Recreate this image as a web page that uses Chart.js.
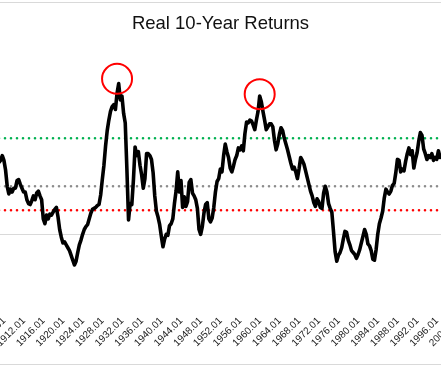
<!DOCTYPE html>
<html><head><meta charset="utf-8">
<script src="https://cdn.jsdelivr.net/npm/chart.js@4.4.1/dist/chart.umd.min.js"></script>
<style>
html,body{margin:0;padding:0;width:441px;height:368px;overflow:hidden;background:#fff;}
#wrap{position:absolute;left:0;top:0;}
#title{position:absolute;left:0;top:14px;width:441px;text-align:center;font-family:"Liberation Sans",Arial,sans-serif;font-size:18.5px;line-height:1;color:#111;}
.rule{position:absolute;left:0;width:441px;height:1px;background:#d9d9d9;}
</style></head><body>
<div class="rule" style="top:2px"></div>
<div class="rule" style="top:364px"></div>
<div id="wrap"><canvas id="c" width="520" height="368"></canvas></div>
<div id="title">Real 10-Year Returns</div>
<script>
// ---- data ----
const START_YEAR = 1906, START_MONTH = 5, STEP_MONTHS = 4, CATEGORY_COUNT = 284;
const CATEGORIES = [];
for (let i = 0; i < CATEGORY_COUNT; i++) {
  const m = START_MONTH - 1 + i * STEP_MONTHS;
  CATEGORIES.push((START_YEAR + Math.floor(m / 12)) + '.' + String(m % 12 + 1).padStart(2, '0'));
}
// real 10-year annualized return (%), every 4 months from 1906.05
const REAL_RETURNS = [
  7.5, 7.7, 8.2, 7.7, 6.7, 5.0, 4.2, 4.7, 4.4, 4.8,
  4.8, 5.6, 5.7, 5.2, 4.8, 4.4, 4.4, 3.6, 3.2, 3.1,
  3.5, 4.0, 3.6, 4.3, 4.5, 4.0, 3.6, 1.6, 1.1, 2.0,
  1.6, 2.1, 2.0, 2.3, 2.6, 2.8, 1.8, 0.5, -0.3, -0.9,
  -0.8, -1.1, -1.4, -1.7, -2.2, -2.7, -3.2, -2.8, -1.9, -1.1,
  -0.6, 0.0, 0.5, 0.8, 1.0, 1.6, 2.2, 2.6, 2.7, 2.8,
  3.0, 3.1, 4.1, 5.7, 7.2, 9.2, 10.8, 11.9, 12.8, 13.3,
  13.5, 13.0, 14.7, 15.7, 14.0, 14.4, 12.6, 11.6, 6.8, 1.5,
  3.2, 3.1, 5.7, 9.1, 8.2, 8.6, 7.2, 6.2, 4.8, 5.8,
  8.4, 8.4, 8.2, 7.8, 6.4, 4.0, 2.4, 1.8, 1.0, -0.2,
  -1.3, -0.5, 0.0, -0.1, 0.9, 1.1, 1.6, 3.2, 4.5, 6.5,
  4.4, 5.6, 2.8, 3.9, 2.9, 3.4, 5.4, 5.7, 4.3, 4.0,
  3.6, 2.7, 0.5, 0.0, 0.8, 2.2, 3.1, 3.3, 1.6, 1.3,
  1.7, 2.8, 4.4, 5.5, 5.8, 6.8, 6.5, 8.2, 9.4, 8.6,
  8.0, 6.9, 6.5, 7.1, 7.8, 8.2, 9.0, 8.8, 9.2, 8.7,
  10.5, 11.7, 11.6, 11.9, 11.8, 11.4, 10.9, 11.9, 12.8, 14.4,
  13.8, 12.8, 11.9, 10.9, 11.2, 11.5, 11.5, 11.2, 9.8, 8.8,
  9.4, 10.4, 11.1, 10.8, 10.0, 9.4, 8.8, 8.1, 7.4, 6.8,
  7.0, 6.5, 5.8, 6.8, 8.0, 7.7, 7.3, 6.6, 5.9, 5.2,
  4.5, 4.0, 3.3, 2.9, 3.7, 3.4, 2.8, 2.7, 4.3, 5.0,
  4.4, 3.2, 2.7, 2.3, 0.3, -1.8, -2.8, -2.2, -1.9, -1.4,
  -0.5, 0.3, 0.2, -0.6, -1.1, -1.7, -1.9, -2.1, -2.5, -2.1,
  -1.6, -0.9, -0.2, 0.5, 0.0, -1.0, -1.2, -1.7, -2.6, -2.7,
  -1.6, 0.0, 1.1, 1.7, 2.4, 3.8, 4.7, 4.4, 4.2, 4.5,
  5.1, 5.3, 6.4, 7.8, 7.7, 6.5, 6.8, 6.6, 7.6, 8.4,
  9.0, 8.3, 8.7, 6.9, 7.8, 8.5, 9.7, 10.6, 10.3, 8.9,
  8.4, 7.8, 8.2, 8.0, 8.4, 7.7, 8.0, 7.8, 8.7, 8.0, 8.1
];
const TICK_LABELS = ['1908.01','1912.01','1916.01','1920.01','1924.01','1928.01','1932.01','1936.01',
  '1940.01','1944.01','1948.01','1952.01','1956.01','1960.01','1964.01','1968.01','1972.01','1976.01',
  '1980.01','1984.01','1988.01','1992.01','1996.01','2000.01'];
const LEVEL_HIGH = 10, LEVEL_MID = 5, LEVEL_LOW = 2.5;
const GRID_VALUE = 0;
const PEAK_LABELS = ['1930.05', '1959.05'];
const PEAK_VALUES = [16.2, 14.6];

// ---- layout (window pixels) ----
const ZERO_Y = 234.3, PX_PER_UNIT = 9.6, FIRST_X = -0.85, PX_PER_CATEGORY = 1.638;
const TICK_SET = new Set(TICK_LABELS);
const FONT = '"Liberation Sans", Arial, sans-serif';

function levelLine(v, color) {
  return {
    data: [{x: CATEGORIES[0], y: v}, {x: CATEGORIES[CATEGORIES.length - 1], y: v}],
    borderColor: color, borderWidth: 2.6, borderDash: [0, 6], borderCapStyle: 'round',
    pointRadius: 0, order: 2
  };
}

function config(yMin, yMax) {
  return {
    type: 'line',
    data: {
      labels: CATEGORIES,
      datasets: [
        {
          data: PEAK_LABELS.map((l, i) => ({x: l, y: PEAK_VALUES[i]})),
          showLine: false, pointRadius: 15, pointHoverRadius: 15, pointBorderWidth: 2,
          pointBorderColor: '#ff0000', pointBackgroundColor: 'rgba(0,0,0,0)', clip: false, order: 0
        },
        {
          data: REAL_RETURNS, borderColor: '#000', borderWidth: 3.6, pointRadius: 0,
          tension: 0, borderJoinStyle: 'round', borderCapStyle: 'round', order: 1
        },
        levelLine(LEVEL_HIGH, '#00b050'),
        levelLine(LEVEL_MID, '#8c8c8c'),
        levelLine(LEVEL_LOW, '#ff0000')
      ]
    },
    options: {
      responsive: false, maintainAspectRatio: false, animation: false, devicePixelRatio: 1,
      layout: {padding: {top: 30, bottom: 16, left: 0, right: 0}},
      plugins: {legend: {display: false}, title: {display: false}, tooltip: {enabled: false}},
      events: [],
      scales: {
        x: {
          type: 'category', offset: false,
          grid: {display: false}, border: {display: false},
          ticks: {
            autoSkip: false, minRotation: 45, maxRotation: 45, padding: 3, labelOffset: -3,
            color: '#222', font: {family: FONT, size: 10},
            callback: function (v) { const l = this.getLabelForValue(v); return TICK_SET.has(l) ? l : ''; }
          }
        },
        y: {
          type: 'linear', min: yMin, max: yMax,
          ticks: {display: false}, border: {display: false},
          grid: {color: '#d9d9d9', lineWidth: 1, drawTicks: false},
          afterBuildTicks: s => { s.ticks = [{value: GRID_VALUE}]; }
        }
      }
    }
  };
}

const canvas = document.getElementById('c');
function make(w, yMin, yMax) {
  canvas.width = w; canvas.height = 368;
  canvas.style.width = w + 'px'; canvas.style.height = '368px';
  return new Chart(canvas, config(yMin, yMax));
}
let chart = make(520, -8, 18);
let a = chart.chartArea;
const extra = 520 - (a.right - a.left);
const topY = a.top, bottomY = a.bottom;
chart.destroy();
const W = Math.round(PX_PER_CATEGORY * (CATEGORY_COUNT - 1) + extra);
chart = make(W, -(bottomY - ZERO_Y) / PX_PER_UNIT, (ZERO_Y - topY) / PX_PER_UNIT);
a = chart.chartArea;
document.getElementById('wrap').style.left = Math.round(FIRST_X - a.left) + 'px';
</script>
</body></html>
